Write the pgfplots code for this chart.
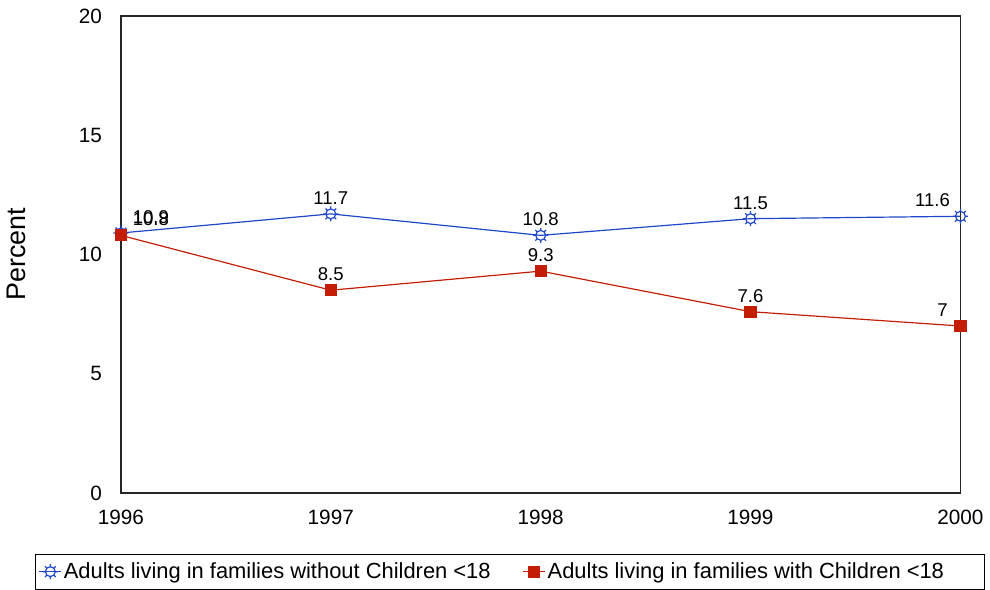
\documentclass[border=0pt]{standalone}
\usepackage{pgfplots}
\pgfplotsset{compat=1.18}
\usepackage{pgfplotstable}
\usepackage{fontspec}
\setmainfont{Liberation Sans}
\definecolor{cblue}{RGB}{30,70,200}
\definecolor{cred}{RGB}{195,30,5}
\pgfdeclareplotmark{sun}{%
  \pgfpathcircle{\pgfpoint{0pt}{0pt}}{0.75\pgfplotmarksize}
  \pgfusepathqstroke
  \foreach \a in {0,45,...,315}{%
    \pgfpathmoveto{\pgfpointpolar{\a}{0.75\pgfplotmarksize}}
    \pgfpathlineto{\pgfpointpolar{\a}{1.15\pgfplotmarksize}}
  }
  \pgfusepathqstroke
}
\pgfplotstableread{
x y dx
1996 10.9 15
1997 11.7 0
1998 10.8 0
1999 11.5 0
2000 11.6 -14
}\blue
\pgfplotstableread{
x y dx
1996 10.8 15
1997 8.5 0
1998 9.3 0
1999 7.6 0
2000 7 -9
}\red
\begin{document}
\begin{tikzpicture}
\begin{axis}[
  scale only axis, width=421.5pt, height=239.5pt,
  xmin=1996, xmax=2000, ymin=0, ymax=20,
  xtick={1996,...,2000}, ytick={0,5,10,15,20},
  major tick length=0pt,
  axis line style={black!85, line width=0.6pt},
  /pgf/number format/assume math mode=true,
  x tick label style={/pgf/number format/1000 sep={}},
  tick label style={font=\fontsize{10.4}{12}\selectfont},
  xticklabel style={yshift=-5pt},
  yticklabel style={xshift=-6pt},
  ylabel={Percent}, ylabel style={font=\fontsize{13.5}{15}\selectfont, yshift=20pt},
  nodes near coords, point meta=explicit symbolic,
  every node near coord/.append style={font=\fontsize{9.3}{11}\selectfont, black, anchor=south, yshift=1pt},
  legend style={at={(-0.102,-0.165)}, anchor=west, legend columns=2,
    draw=black, line width=0.5pt, font=\fontsize{11}{13}\selectfont,
    inner xsep=1.5pt, inner ysep=2pt,
    nodes={inner xsep=1pt},
    /tikz/every even column/.style={column sep=15pt}},
  legend image code/.code={%
    \draw[mark repeat=2,mark phase=2] plot coordinates {(0pt,0pt) (5.5pt,0pt) (11pt,0pt)};},
  legend cell align=left,
  clip=false,
]
\addplot[cblue, line width=0.6pt, mark=sun, mark size=3.3pt,
  visualization depends on={\thisrow{dx} \as \dx},
  every node near coord/.append style={xshift=\dx pt}]
  table[x=x, y=y, meta=y] {\blue};
\addlegendentry{Adults living in families without Children <18}
\addplot[cred, line width=0.6pt, mark=square*, mark size=2.75pt, mark options={fill=cred, draw=cred},
  visualization depends on={\thisrow{dx} \as \dx},
  every node near coord/.append style={xshift=\dx pt}]
  table[x=x, y=y, meta=y] {\red};
\addlegendentry{Adults living in families with Children <18\rule{18pt}{0pt}}
\end{axis}
\useasboundingbox (-60pt,-47.5pt) rectangle (435pt,247.5pt);
\end{tikzpicture}
\end{document}
